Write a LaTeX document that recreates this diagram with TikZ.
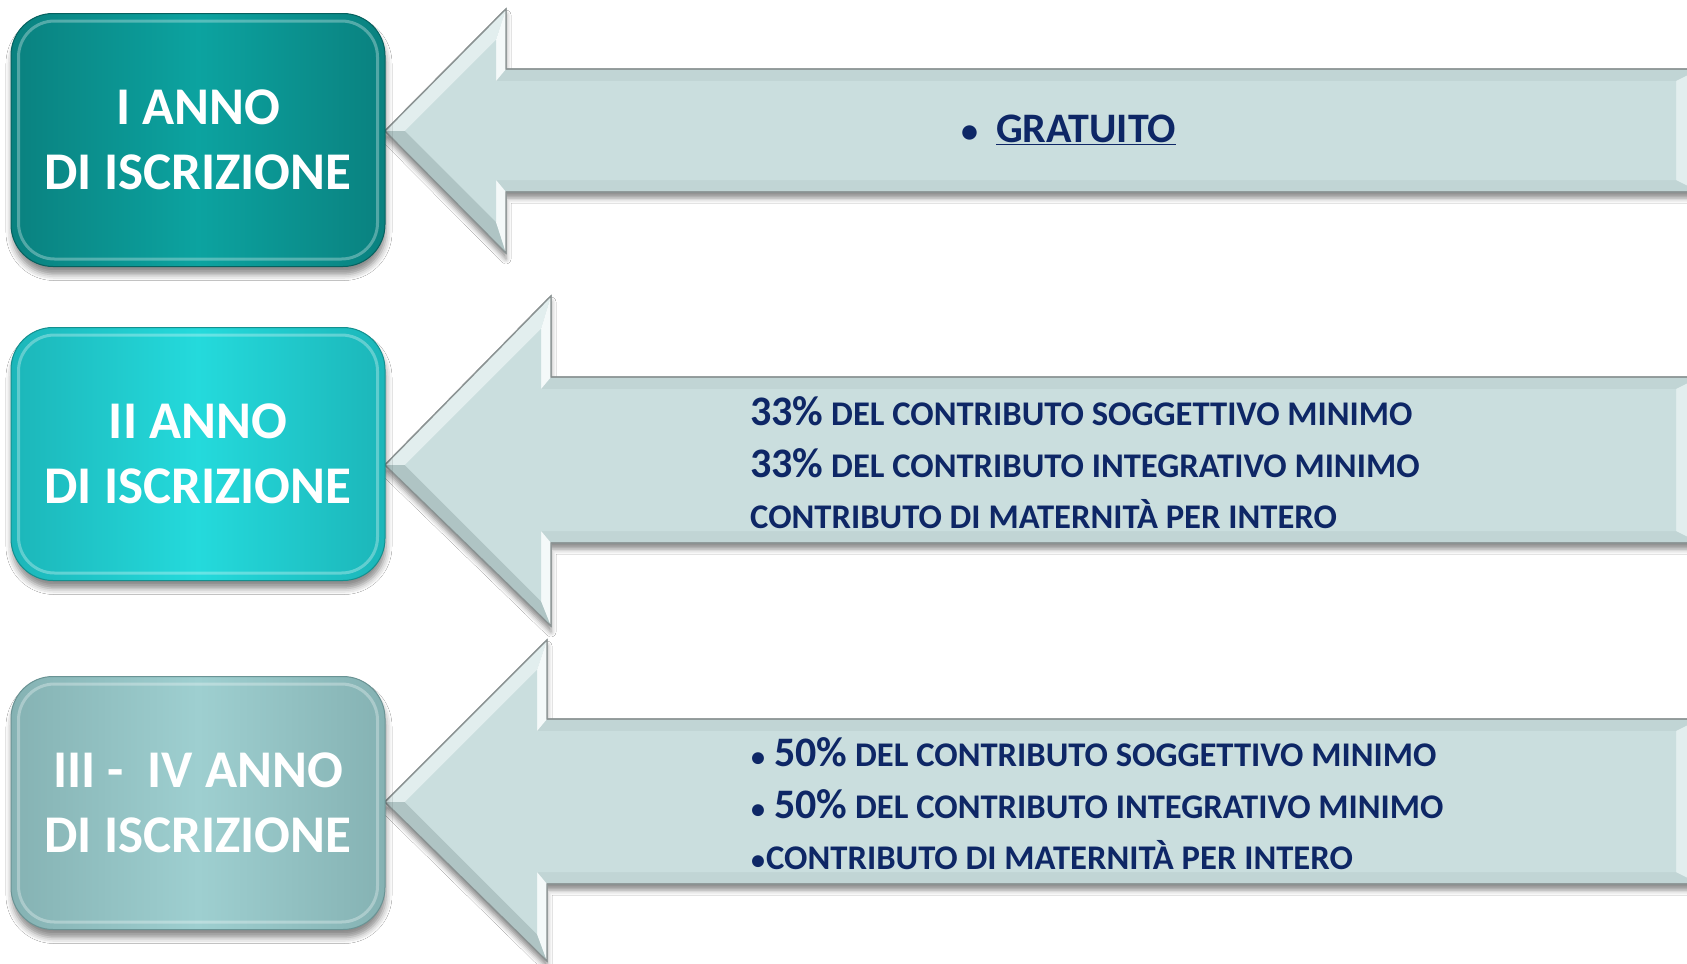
\documentclass[tikz,border=0pt]{standalone}
\usepackage{fontspec}
\setmainfont{Carlito}
\usetikzlibrary{shadows,shadows.blur}
\definecolor{boxA}{HTML}{0CA3A0}
\definecolor{boxAd}{HTML}{0A817F}
\definecolor{boxAe}{HTML}{06615F}
\definecolor{boxB}{HTML}{24DADC}
\definecolor{boxBd}{HTML}{1CB6B9}
\definecolor{boxBe}{HTML}{14908F}
\definecolor{boxC}{HTML}{9ECFD0}
\definecolor{boxCd}{HTML}{85B2B3}
\definecolor{boxCe}{HTML}{6A9394}
\definecolor{arrowfill}{HTML}{CADEDE}
\definecolor{arrowedge}{HTML}{8A9292}
\definecolor{bevlight}{HTML}{E2EEEE}
\definecolor{bevwhite}{HTML}{F4F9F9}
\definecolor{bevdark}{HTML}{AFC4C4}
\definecolor{bevband}{HTML}{C1D5D5}
\definecolor{navy}{HTML}{0E2766}
\newcommand{\bevelarrow}[6]{%
  % #1 tip y, #2 head x, #3 head top, #4 head bottom, #5 shaft top, #6 shaft bottom
  \draw[arrowedge, line width=1.2pt, fill=bevband,
        blur shadow={shadow xshift=0pt, shadow yshift=-6pt, shadow blur radius=5pt, shadow opacity=45}]
    (385,#1) -- (#2,#3) -- (#2,#5) -- (1700,#5) -- (1700,#6) -- (#2,#6) -- (#2,#4) -- cycle;
  \fill[bevlight] (385,#1) -- (#2,#3) -- ({#2-10},{#1-#2+415}) -- (405,#1) -- cycle;
  \fill[bevdark] (385,#1) -- (#2,#4) -- ({#2-10},{#1+#2-415}) -- (405,#1) -- cycle;
  \fill[bevwhite] (#2,#3) -- (#2,#5) -- ({#2-10},{#5+12}) -- ({#2-10},{#1-#2+415}) -- cycle;
  \fill[bevwhite] (#2,#4) -- (#2,#6) -- ({#2-10},{#6-12}) -- ({#2-10},{#1+#2-415}) -- cycle;
  \fill[bevlight] (1676,{#5+12}) -- (1700,#5) -- (1700,#6) -- (1676,{#6-12}) -- cycle;
  \fill[arrowfill] (405,#1) -- ({#2-10},{#1-#2+415}) -- ({#2-10},{#5+12}) -- (1676,{#5+12})
    -- (1676,{#6-12}) -- ({#2-10},{#6-12}) -- ({#2-10},{#1+#2-415}) -- cycle;
  \draw[arrowedge, line width=1.2pt]
    (385,#1) -- (#2,#3) -- (#2,#5) -- (1700,#5) -- (1700,#6) -- (#2,#6) -- (#2,#4) -- cycle;
}
\tikzset{
  yearbox/.style={rounded corners=42pt, minimum width=374pt, minimum height=253pt,
    text=white, font=\fontsize{53}{65}\selectfont\bfseries, align=center,
    line width=1pt,
    blur shadow={shadow xshift=1pt, shadow yshift=-8pt, shadow blur radius=6pt, shadow opacity=45}},
  rim/.style={white, opacity=.3, line width=3pt, rounded corners=36pt},
  arrowtext/.style={text=navy, font=\fontsize{34.6}{40}\selectfont\bfseries, inner sep=0pt, anchor=base west}
}
\newcommand{\bignum}[1]{{\fontsize{42}{42}\selectfont #1}}
\newcommand{\smallbul}{{\fontsize{28}{28}\selectfont\textbullet}}
\begin{document}
\begin{tikzpicture}[x=1pt,y=-1pt]
\useasboundingbox (0,0) rectangle (1687,964);
\clip (0,0) rectangle (1687,964);
\fill[white] (0,0) rectangle (1687,964);

% arrows
\bevelarrow{131}{506}{9}{253}{69}{192}
\bevelarrow{465}{551}{296}{626}{377}{543}
\bevelarrow{802}{547}{640}{961}{719}{884}

% boxes
\node[yearbox, draw=boxAe, left color=boxAd, right color=boxAd, middle color=boxA] (b1) at (198,140) {I ANNO\\DI ISCRIZIONE};
\node[yearbox, draw=boxBe, left color=boxBd, right color=boxBd, middle color=boxB] (b2) at (198,454) {II ANNO\\DI ISCRIZIONE};
\node[yearbox, draw=boxCe, left color=boxCd, right color=boxCd, middle color=boxC] (b3) at (198,803) {III -~ IV ANNO\\DI ISCRIZIONE};
\foreach \b in {b1,b2,b3}{
  \draw[rim] ([shift={(8,8)}]\b.north west) rectangle ([shift={(-8,-8)}]\b.south east);
}

% arrow texts
\node[arrowtext, font=\fontsize{42}{45}\selectfont\bfseries] (g1) at (961,142) {{\fontsize{34}{34}\selectfont\textbullet}\hspace{18pt}\underline{GRATUITO}};

\node[arrowtext] (a21) at (750,425) {\bignum{33\%} DEL CONTRIBUTO SOGGETTIVO MINIMO};
\node[arrowtext] (a22) at (750,477) {\bignum{33\%} DEL CONTRIBUTO INTEGRATIVO MINIMO};
\node[arrowtext] (a23) at (750,528) {CONTRIBUTO DI MATERNITÀ PER INTERO};

\node[arrowtext] (a31) at (751,766) {\smallbul\hspace{9pt}\bignum{50\%} DEL CONTRIBUTO SOGGETTIVO MINIMO};
\node[arrowtext] (a32) at (751,818) {\smallbul\hspace{9pt}\bignum{50\%} DEL CONTRIBUTO INTEGRATIVO MINIMO};
\node[arrowtext] (a33) at (751,869) {\smallbul\hspace{1pt}CONTRIBUTO DI MATERNITÀ PER INTERO};
\end{tikzpicture}
\end{document}
